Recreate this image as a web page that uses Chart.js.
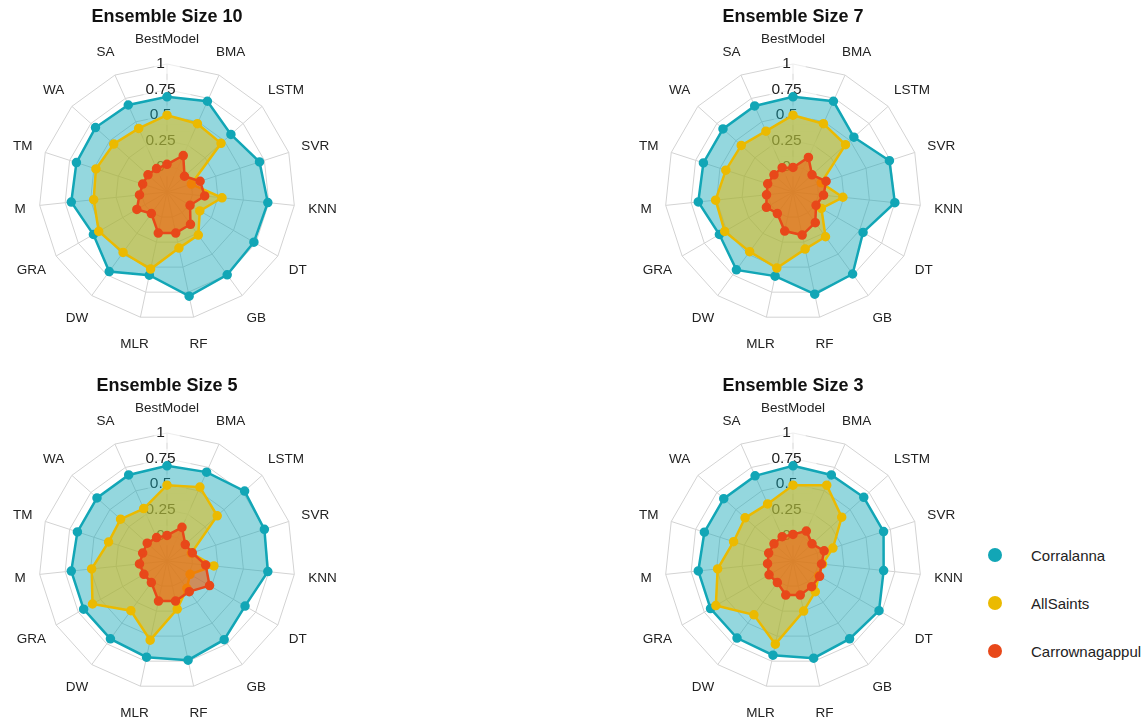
<!DOCTYPE html>
<html lang="en">
<head>
<meta charset="UTF-8">
<title>Ensemble Size radar charts</title>
<script src="https://cdn.jsdelivr.net/npm/chart.js"></script>
<style>
  body { margin: 0; background: #fff; font-family: "Liberation Sans", Arial, sans-serif; }
  #wrap { position: relative; width: 1146px; height: 720px; overflow: hidden; }
  .box { position: absolute; width: 350px; height: 360px; }
  #legend { position: absolute; left: 988px; top: 531px; }
  .item { height: 48px; display: flex; align-items: center; font-size: 15px; color: #222; }
  .dot { width: 14px; height: 14px; border-radius: 50%; margin-right: 29px; }
</style>
</head>
<body>
<div id="wrap">
  <div class="box" style="left:-8px;top:0px"><canvas id="c10"></canvas></div>
  <div class="box" style="left:618px;top:0px"><canvas id="c7"></canvas></div>
  <div class="box" style="left:-8px;top:369px"><canvas id="c5"></canvas></div>
  <div class="box" style="left:618px;top:369px"><canvas id="c3"></canvas></div>
  <div id="legend"></div>
</div>

<script>
const models = ['BestModel', 'BMA', 'LSTM', 'SVR', 'KNN', 'DT', 'GB', 'RF', 'MLR', 'DW', 'GRA', 'M', 'TM', 'WA', 'SA'];
const stations = ['Corralanna', 'AllSaints', 'Carrownagappul'];
const tickValues = [0, 0.25, 0.5, 0.75, 1];

// ensemble size 10
const size10Corralanna = [0.68, 0.72, 0.59, 0.70, 0.74, 0.73, 0.75, 0.79, 0.58, 0.71, 0.58, 0.69, 0.68, 0.69, 0.68];
const size10AllSaints = [0.50, 0.48, 0.46, 0.00, 0.29, 0.12, 0.27, 0.31, 0.52, 0.48, 0.52, 0.47, 0.48, 0.45, 0.43];
const size10Carrownagappul = [0.02, 0.14, -0.02, 0.09, 0.12, 0.01, 0.14, 0.16, 0.16, 0.01, 0.09, 0.02, 0.00, 0.00, 0.00];

// ensemble size 7
const size7Corralanna = [0.68, 0.72, 0.55, 0.74, 0.75, 0.54, 0.74, 0.77, 0.59, 0.69, 0.58, 0.68, 0.67, 0.67, 0.67];
const size7AllSaints = [0.50, 0.48, 0.44, 0.04, 0.24, 0.07, 0.29, 0.32, 0.51, 0.47, 0.52, 0.51, 0.44, 0.43, 0.40];
const size7Carrownagappul = [-0.01, 0.12, 0.00, 0.09, 0.05, 0.01, 0.12, 0.18, 0.14, 0.01, 0.05, 0.01, 0.01, 0.00, 0.01];

// ensemble size 5
const size5Corralanna = [0.68, 0.70, 0.77, 0.75, 0.74, 0.63, 0.70, 0.74, 0.71, 0.69, 0.69, 0.69, 0.67, 0.67, 0.67];
const size5AllSaints = [0.49, 0.54, 0.41, 0.00, 0.21, 0.01, 0.08, 0.23, 0.54, 0.35, 0.59, 0.49, 0.35, 0.36, 0.31];
const size5Carrownagappul = [0.00, 0.11, -0.01, 0.01, 0.13, 0.23, 0.12, 0.15, 0.15, 0.01, 0.01, 0.02, 0.00, 0.01, 0.00];

// ensemble size 3
const size3Corralanna = [0.68, 0.67, 0.68, 0.68, 0.64, 0.72, 0.69, 0.72, 0.69, 0.68, 0.68, 0.68, 0.66, 0.66, 0.66];
const size3AllSaints = [0.49, 0.56, 0.39, 0.16, 0.04, 0.04, 0.12, 0.25, 0.58, 0.40, 0.62, 0.49, 0.36, 0.38, 0.36];
const size3Carrownagappul = [0.01, 0.07, 0.00, 0.07, 0.03, 0.05, 0.06, 0.09, 0.09, 0.01, 0.02, 0.00, 0.00, 0.00, 0.01];

const lineColors = ['#12a6b6', '#ebba00', '#e8481a'];
const fillColors = ['rgba(18,166,182,0.45)', 'rgba(235,186,0,0.5)', 'rgba(242,92,10,0.6)'];
const font = '"Liberation Sans", Arial, sans-serif';

// axis names are drawn by hand so they sit round the web like the original
const labelGap = 14;
const labelHalfHeight = 12.4;
const axisNamePlugin = {
    id: 'axisNames',
    afterDraw(chart) {
        const scale = chart.scales.r;
        const ctx = chart.ctx;
        ctx.save();
        ctx.font = '13.5px ' + font;
        ctx.fillStyle = '#222';
        ctx.textAlign = 'center';
        ctx.textBaseline = 'middle';
        chart.data.labels.forEach((label, i) => {
            const a = scale.getIndexAngle(i);
            const p = scale.getPointPosition(i, scale.drawingArea + labelGap);
            const w = ctx.measureText(label).width;
            ctx.fillText(label, p.x + Math.sin(a) * w / 2, p.y - Math.cos(a) * labelHalfHeight + 1.5);
        });
        ctx.restore();
    }
};

function makeRadar(id, title, series) {
    const ctx = document.getElementById(id).getContext('2d');
    return new Chart(ctx, {
        type: 'radar',
        data: {
            labels: models,
            datasets: series.map((values, i) => ({
                label: stations[i],
                data: values,
                borderColor: lineColors[i],
                backgroundColor: fillColors[i],
                pointBackgroundColor: lineColors[i],
                pointBorderColor: lineColors[i],
                pointRadius: 3.5,
                borderWidth: 2.5,
                fill: 'start',
                order: 3 - i
            }))
        },
        options: {
            responsive: true,
            maintainAspectRatio: false,
            animation: false,
            layout: { padding: { left: 36.5, right: 36.5, top: 0, bottom: 29.5 } },
            plugins: {
                legend: { display: false },
                tooltip: { enabled: false },
                title: {
                    display: true,
                    text: title,
                    color: '#111',
                    font: { family: font, size: 18, weight: 'bold', lineHeight: 1 },
                    padding: { top: 8.5, bottom: 27 }
                }
            },
            scales: {
                r: {
                    min: -0.25,
                    max: 1,
                    afterBuildTicks: (scale) => {
                        scale.ticks = tickValues.map(v => ({ value: v }));
                    },
                    ticks: {
                        color: '#222',
                        font: { family: font, size: 15.5 },
                        backdropColor: 'rgba(255,255,255,0.6)',
                        callback: (v) => String(v) + '   '
                    },
                    grid: { color: '#d3d3d3', lineWidth: 1 },
                    angleLines: { color: '#d3d3d3', lineWidth: 1 },
                    pointLabels: { display: false }
                }
            }
        },
        plugins: [axisNamePlugin]
    });
}

makeRadar('c10', 'Ensemble Size 10', [size10Corralanna, size10AllSaints, size10Carrownagappul]);
makeRadar('c7', 'Ensemble Size 7', [size7Corralanna, size7AllSaints, size7Carrownagappul]);
makeRadar('c5', 'Ensemble Size 5', [size5Corralanna, size5AllSaints, size5Carrownagappul]);
makeRadar('c3', 'Ensemble Size 3', [size3Corralanna, size3AllSaints, size3Carrownagappul]);

// legend
const legend = document.getElementById('legend');
stations.forEach((name, i) => {
    const item = document.createElement('div');
    item.className = 'item';
    item.innerHTML = '<span class="dot" style="background:' + lineColors[i] + '"></span>' + name;
    legend.appendChild(item);
});
</script>
</body>
</html>
